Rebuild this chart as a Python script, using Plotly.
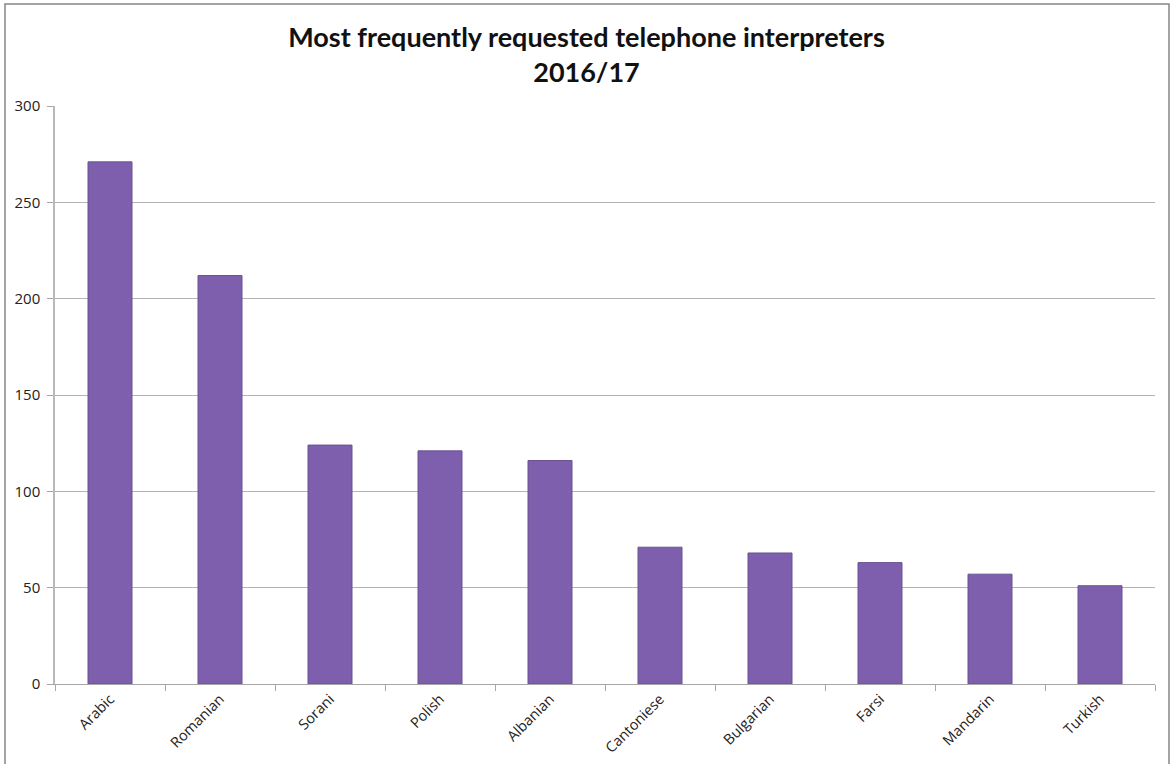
import plotly.graph_objects as go

languages = ["Arabic", "Romanian", "Sorani", "Polish", "Albanian",
             "Cantoniese", "Bulgarian", "Farsi", "Mandarin", "Turkish"]
requests = [271, 212, 124, 121, 116, 71, 68, 63, 57, 51]
y_ticks = [0, 50, 100, 150, 200, 250, 300]

W, H = 1173, 764
L, R, T, B = 55, 18, 106, 80
pw, ph = W - L - R, H - T - B

def px_to_paper_x(px):
    return (px - L) / pw

def px_to_paper_y(py):
    return (H - B - py) / ph

fig = go.Figure()
fig.add_trace(go.Bar(
    x=languages,
    y=requests,
    marker=dict(color="#7e5fae", line=dict(color="#6a5290", width=1)),
    hoverinfo="x+y",
))

# outer chart frame
fig.add_shape(type="rect", xref="paper", yref="paper",
              x0=px_to_paper_x(5), x1=px_to_paper_x(1169),
              y0=px_to_paper_y(775), y1=px_to_paper_y(4),
              line=dict(color="#878787", width=1.5), fillcolor="rgba(0,0,0,0)",
              layer="below")

fig.update_layout(
    width=W, height=H,
    margin=dict(l=L, r=R, t=T, b=B),
    paper_bgcolor="white", plot_bgcolor="white",
    bargap=0.6,
    showlegend=False,
    font=dict(family="Open Sans, Liberation Sans, sans-serif", size=14, color="#222222"),
    title=dict(
        text="<b>Most frequently requested telephone interpreters<br>2016/17</b>",
        x=0.5, xref="container", xanchor="center",
        y=1 - 47 / H, yref="container", yanchor="middle",
        font=dict(family="Lato, Open Sans, sans-serif", size=27, color="#111111"),
    ),
    xaxis=dict(
        type="category",
        automargin=False,
        tickangle=-45,
        tickson="boundaries",
        ticks="outside", ticklen=6, tickcolor="#a6a6a6",
        showline=True, linecolor="#a6a6a6", linewidth=1,
        showgrid=False,
        tickfont=dict(family="Open Sans, sans-serif", size=14.5, color="#222222"),
    ),
    yaxis=dict(
        range=[0, 300],
        automargin=False,
        tickvals=y_ticks,
        ticks="outside", ticklen=6, tickcolor="#a6a6a6",
        showline=True, linecolor="#b8b8b8", linewidth=1.5,
        showgrid=True, gridcolor="#b3b3b3", gridwidth=1,
        zeroline=False,
        ticklabelstandoff=4,
        tickfont=dict(family="Open Sans, sans-serif", size=15, color="#222222"),
    ),
)

fig.write_html("out.html")
